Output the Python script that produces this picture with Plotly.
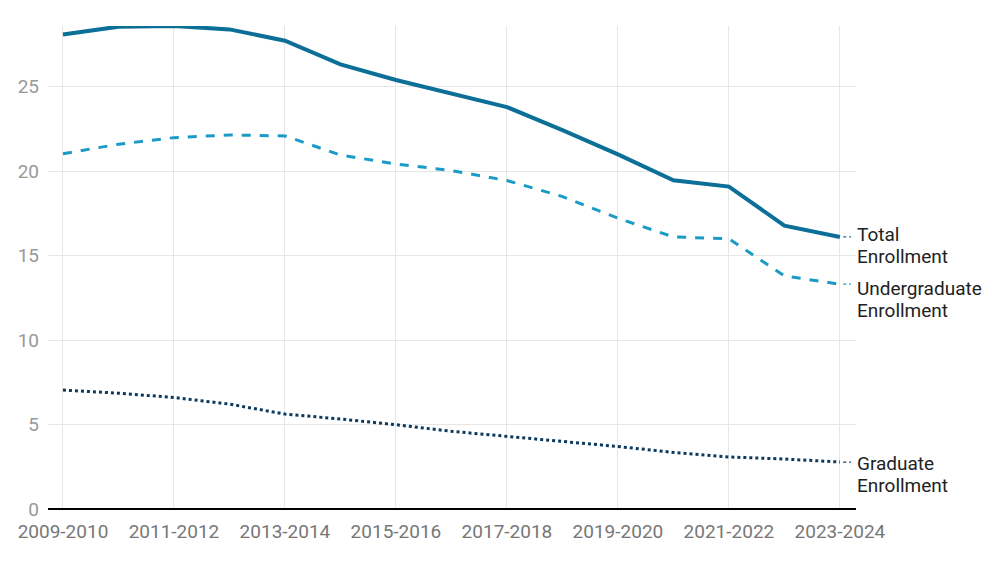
import plotly.graph_objects as go

years = ["2009-2010", "2010-2011", "2011-2012", "2012-2013", "2013-2014", "2014-2015",
         "2015-2016", "2016-2017", "2017-2018", "2018-2019", "2019-2020", "2020-2021",
         "2021-2022", "2022-2023", "2023-2024"]
total = [28.1, 28.56, 28.6, 28.4, 27.73, 26.33, 25.4, 24.6, 23.8, 22.44, 21.0, 19.47, 19.09, 16.78, 16.11]
undergrad = [21.04, 21.6, 21.99, 22.15, 22.09, 20.96, 20.43, 20.04, 19.45, 18.5, 17.22, 16.11, 16.0, 13.8, 13.31]
graduate = [7.04, 6.86, 6.6, 6.21, 5.62, 5.33, 4.99, 4.6, 4.3, 4.0, 3.7, 3.35, 3.08, 2.96, 2.78]
tick_labels = ["2009-2010", "2011-2012", "2013-2014", "2015-2016", "2017-2018",
               "2019-2020", "2021-2022", "2023-2024"]
y_ticks = [0, 5, 10, 15, 20, 25]
series_names = [["Total", "Enrollment"], ["Undergraduate", "Enrollment"], ["Graduate", "Enrollment"]]

colors = ["#0b6f97", "#1a9bc6", "#0c3a5e"]
dashes = ["solid", "dash", "dot"]
widths = [4, 3, 3]
label_shift = [16, 9, 12]
line_gap = 22

fig = go.Figure()
for vals, c, d, w in zip([total, undergrad, graduate], colors, dashes, widths):
    fig.add_trace(go.Scatter(x=years, y=vals, mode="lines",
                             line=dict(color=c, dash=d, width=w), hoverinfo="skip"))

n = len(years)
for vals, c, name, ys in zip([total, undergrad, graduate], colors, series_names, label_shift):
    # small dotted connector
    fig.add_shape(type="line", xref="x", yref="y",
                  x0=n - 1 + 0.06, x1=n - 1 + 0.2, y0=vals[-1], y1=vals[-1],
                  line=dict(color=c, width=1.2, dash="dot"))
    for i, part in enumerate(name):
        fig.add_annotation(x=years[-1], y=vals[-1], text=part, showarrow=False,
                           xanchor="left", yanchor="top", align="left",
                           xshift=15, yshift=ys - line_gap * i,
                           font=dict(family="Roboto", size=19, color="#222222"))

fig.update_layout(
    width=1000, height=563,
    margin=dict(l=48, r=144, t=26, b=54),
    plot_bgcolor="white", paper_bgcolor="white",
    showlegend=False,
    font=dict(family="Roboto", size=19, color="#888888"),
)
fig.update_xaxes(type="category", range=[-0.27, n - 1 + 0.29],
                 tickmode="array", tickvals=tick_labels, ticktext=tick_labels,
                 showgrid=True, gridcolor="#e6e6e6", gridwidth=1,
                 showline=False, ticks="", zeroline=False, ticklabelstandoff=9,
                 tickfont=dict(family="Roboto", size=19, color="#777777"))
fig.update_yaxes(range=[0, 28.6], tickvals=y_ticks,
                 showgrid=True, gridcolor="#e6e6e6", gridwidth=1,
                 zeroline=True, zerolinecolor="#000000", zerolinewidth=1.5,
                 showline=False, ticks="", ticklabelstandoff=8,
                 tickfont=dict(family="Roboto", size=19, color="#999999"))

fig.write_html("out.html", config={"displayModeBar": False},
               post_script="document.body.style.margin='0';")
